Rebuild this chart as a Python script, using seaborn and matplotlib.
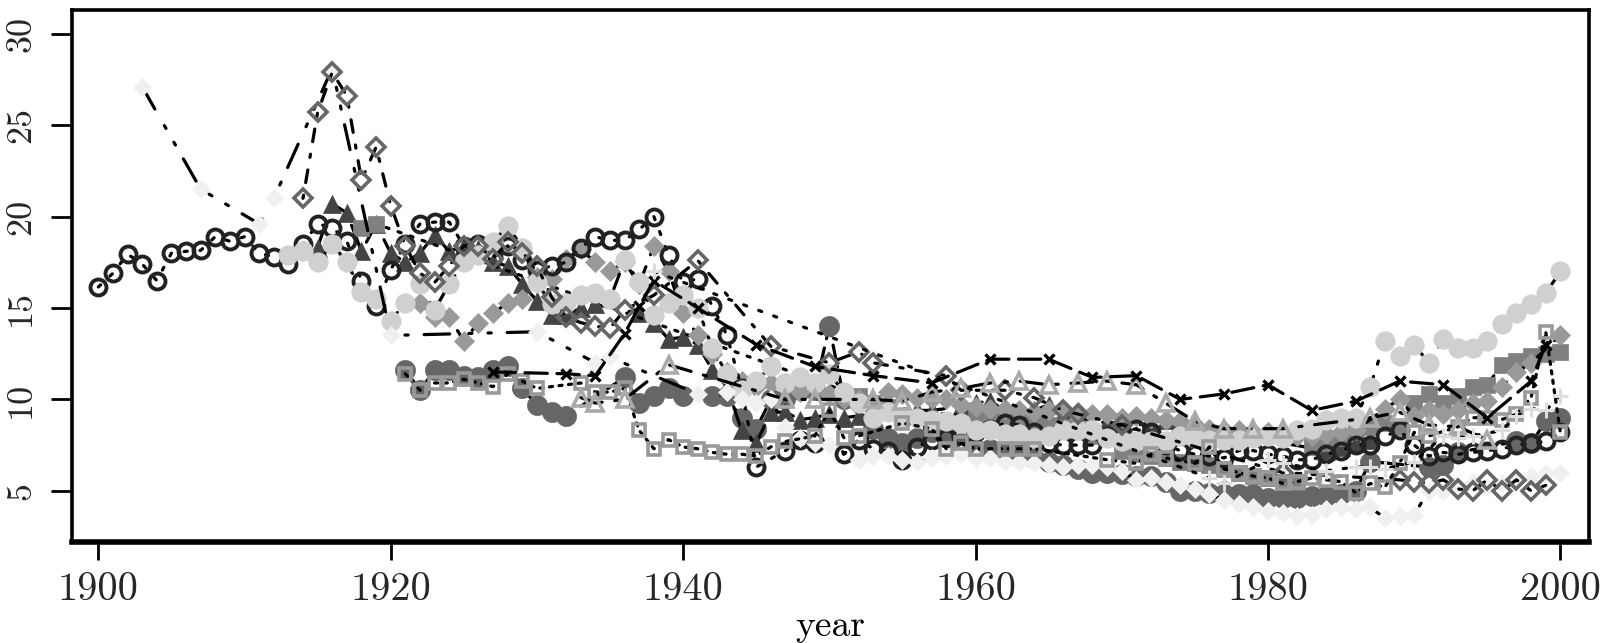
import matplotlib
matplotlib.use("Agg")
import matplotlib.pyplot as plt
import pandas as pd
import seaborn as sns

sns.set_style("white")
plt.rcParams["font.family"] = ["cmr10", "DejaVu Sans"]
plt.rcParams["axes.formatter.use_mathtext"] = True

x_ticks = [1900, 1920, 1940, 1960, 1980, 2000]
x_tick_labels = ["1900", "1920", "1940", "1960", "1980", "2000"]
y_ticks = [5, 10, 15, 20, 25, 30]
y_tick_labels = ["5", "10", "15", "20", "25", "30"]

# dark filled circles
h_years = [1921,1922,1923,1924,1925,1926,1927,1928,1929,1930,1931,1932,1936,1937,1938,1939,1940,1942,1943,1944,1945,1946,1947,1948,1949,1950,1951,1953,1954,1955,1956,1957,1958,1959,1960,1961,1962,1963,1964,1965,1966,1967,1968,1969,1970,1971,1972,1973,1974,1975,1976,1977,1978,1979,1980,1981,1982,1983,1984,1985,1986,1987,1991,1992,1993,1997,1998,1999,2000]
h_vals = [11.6,10.5,11.6,11.6,11.3,11.2,11.6,11.8,10.6,9.7,9.3,9.1,11.2,9.8,10.2,10.6,10.2,10.2,10.2,9.0,8.4,10,10,10.5,10.5,14,10,8.4,7.9,7.6,7.9,8.2,8,7.6,7.3,7.3,7.2,7,6.8,6.6,6.4,6.2,6,6,5.9,5.8,5.8,5.5,5,5,4.9,4.8,4.8,4.8,4.6,4.6,4.6,4.7,4.7,4.8,5,6.6,6.3,6.4,7.1,7.7,7.6,8.8,9]
# dark triangles
d_years = [1915,1916,1917,1918,1919,1920,1921,1922,1923,1924,1925,1926,1927,1928,1929,1930,1931,1932,1933,1934,1937,1938,1939,1940,1941,1942,1943,1944,1945,1946,1947,1948,1949,1950,1951,1952,1956,1957,1959,1960,1961,1962,1963,1964,1965,1966,1967,1969,1970,1972,1973,1974,1975,1976,1984,1985,1986,1987]
d_vals = [18.3,20.7,20.2,18.1,19.6,18,17.5,18,19,18.1,18.4,18.2,17.5,17.3,16.3,15.4,14.6,14.6,15,15.2,14.7,14.2,13.3,13.4,13,11.6,10.7,8.3,7.6,9.3,9.3,8.9,9,9.2,9,9.1,9.4,9.4,9.6,9.8,9.9,9.4,9.4,9.4,9.7,9.2,9,8.7,8.5,8.7,8.9,8.7,8.4,8.3,7.2,7.4,7.6,7.8]
# gray squares
e_years = [1918,1919,1952,1953,1954,1960,1961,1962,1963,1964,1965,1966,1967,1968,1970,1971,1972,1973,1974,1975,1976,1977,1978,1979,1980,1981,1982,1983,1984,1985,1986,1987,1988,1989,1990,1991,1992,1993,1994,1995,1996,1997,1998,1999,2000]
e_vals = [19.4,19.6,10.2,9.8,9.6,9,8.8,8.8,8.7,8.7,8.6,8.5,8.4,8,7.2,7,6.9,6.8,6.6,6.5,6.4,6.2,6,5.8,5.7,5.5,5.5,7.4,7.6,7.9,8.3,8.5,8.7,8.5,9.8,10.3,9.8,10.2,10.7,10.8,11.9,12.1,12.4,12.5,12.6]
# mid-gray diamonds
f_years = list(range(1922, 1936)) + list(range(1936, 1987)) + list(range(1988, 1999)) + [2000]
f_vals = [15.3,14.5,14.5,13.2,14.2,14.7,15.3,15.5,16.7,16.6,17.7,18.2,17.5,17,
          17.5,16.3,18.4,17,14.7,13.5,12.5,11.5,11,10.7,10.9,10.7,10.4,10.7,10.3,10,10,9.8,10.4,10.3,10.1,10,10,9.7,9.6,9.5,9.5,9.4,9.3,9.4,9.4,9.3,9.2,9.2,9,9.1,9,8.9,8.8,8.6,8.4,8.3,8.3,8.2,8.2,8.2,8,8,8.1,8.2,8.3,
          9.5,10,9.1,9.4,9.2,9.4,9.8,9.9,10.7,11.5,12,13.5]
# open dark circles
a_years = list(range(1900, 1945)) + [1945,1947,1948,1949] + list(range(1951, 2001))
a_vals = [16.15,16.9,17.95,17.4,16.5,18,18.1,18.15,18.9,18.65,18.9,18,17.8,17.4,18.5,19.6,19.4,18.65,16.5,15.1,17.1,18.5,19.6,19.7,19.7,
          18.4,18.5,17.8,18.4,17.6,17.1,17.3,17.5,18.3,18.9,18.7,18.7,19.3,20,17.9,16.4,16.6,15.1,13.5,10.6,
          6.3,7.2,7.8,7.6,
          7,7.8,7.3,7.2,6.7,7.4,7.8,7.9,8,8.2,8.4,8.7,8.6,8.2,7.6,7.5,7.5,7.5,8,8.2,8.4,8.2,7.5,7.2,7,6.9,6.8,7.2,7.2,7,6.9,6.7,6.7,7,7.2,7.5,7.5,8,8.3,7.5,6.9,7.1,7,7.1,7.2,7.3,7.5,7.6,7.7,8.2]
# light ellipses
g_years = list(range(1913, 2001))
g_vals = [17.9,18.1,17.5,18.5,17.5,15.9,15.5,14.3,15.3,16.3,14.9,16.3,17.5,17.9,18.6,19.5,18.3,16.4,15.2,15.3,15.7,15.8,15.5,17.6,16.4,14.6,15.3,15.7,15,12.8,11.4,10.5,11,11.8,10.9,11.2,10.9,11.4,10.4,9.8,9,9.3,9,9,8.9,8.8,8.7,8.3,8.3,8.1,8.1,7.9,8,8.3,8.3,8.3,7.9,7.7,7.7,7.7,7.7,8,7.9,7.8,7.8,7.8,7.9,8,7.9,8.3,8.4,8.9,9,9,10.7,13.2,12.4,13,12,13.3,12.8,12.8,13.2,14.1,14.7,15.2,15.8,17]
# pale diamonds
b_years = [1903,1907,1911,1912,1916,1920,1930,1934,1935,1941,1943,1944,1945,1946,1947,1948,1949,1950] + list(range(1952, 2001))
b_vals = [27.1,21.5,19.6,21,28.1,13.5,13.7,12,12.3,10.3,10.4,10,9.8,10,8.5,7.9,7.6,7.5,6.7,6.9,6.9,6.7,6.6,6.8,6.9,7,6.8,6.8,6.6,6.6,6.5,6.4,6.3,6.4,6.4,6.3,6.1,5.6,5.7,5.5,5.3,5.1,4.8,4.5,4.3,4.1,3.9,3.8,3.6,3.7,4,4.1,4,4.1,3.5,3.6,3.7,5,5,5.2,5.4,5.2,5.4,5.7,5.8,6,6]
# open gray diamonds
c_years = [1914,1915,1916,1917,1918,1919,1920,1921,1922,1923,1924,1925,1926,1927,1928,1929,1930,1931,1932,1933,1934,1935,1936,1938,1941,1946,1950,1952,1953,1958,1959,1962,1964,1966,1967,1970,1981,1989,1990,1991,1992,1993,1994,1995,1996,1997,1998,1999]
c_vals = [21,25.7,27.9,26.6,22,23.8,20.6,18.4,16.9,16.4,17.3,18.4,18.4,17.7,18.6,18,17.3,15.6,14.5,14.2,14,13.9,14.9,15.7,17.6,12.9,12,12.6,12,11.3,10.5,10.5,10.1,9.4,9.2,8.6,6,5.6,5.5,5.4,5.6,5.1,5,5.6,5,5.6,5,5.3]
# open gray squares
i_years = [1921,1922,1923,1924,1925,1926,1927,1928,1929,1930,1933,1934,1935,1936,1937,1938,1939,1940,1941,1942,1943,1944,1945,1946,1947,1949,1950,1951,1952,1955,1957,1958,1959,1960,1962,1963,1964,1969,1971,1972,1973,1975,1976,1977,1978,1979,1980,1981,1982,1983,1984,1985,1986,1987,1988,1989,1990,1991,1993,1994,1995,1996,1997,1998,1999,2000]
i_vals = [11.4,10.5,10.9,10.9,11.1,10.9,10.7,11.4,11,10.6,10.9,10.4,10.4,10.6,8.3,7.3,7.8,7.4,7.3,7.1,7,7,6.9,7.4,7.7,8,9.4,7.9,8,8.7,8.4,7.3,7.6,7.3,7.3,7.3,7.3,6.7,6.5,7,6.8,6.5,7.4,6.2,6,5.8,5.7,5.4,5.5,5.7,5.6,5.5,4.9,5.4,5.2,6.5,8.2,8,8.5,9,9,8.9,9.2,10.1,13.7,8.2]
# open triangles
k_years = [1933,1934,1936,1939,1947,1949,1953,1955,1957,1959,1961,1963,1965,1967,1969,1971,1973,1975,1977,1979,1981,1987,1989,1991,1993,1995]
k_vals = [10.1,9.8,10,11.9,10,10,10,9.9,10.4,10.6,10.9,11,10.8,10.9,11,10.8,9.8,8.8,8.4,8.4,8.4,9,9.3,8.6,8.5,7.8]
# crosses
j_years = [1927,1932,1934,1936,1937,1938,1941,1945,1949,1953,1957,1961,1965,1968,1971,1974,1977,1980,1983,1986,1989,1992,1995,1998,1999]
j_vals = [11.5,11.4,11.3,13.6,15.1,16.5,15,13,11.8,11.3,10.9,12.2,12.2,11.2,11.3,10,10.3,10.8,9.4,9.9,11,10.8,9,11,13]
# pale plus signs
l_years = [1938,1976,1977,1980,1981,1984,1986,1987,1988,1990,1992,1993,1994,1996,1997,1998,1999,2000]
l_vals = [17,5.7,5.4,6.7,6.5,6.1,6.3,6.3,6.2,6.6,8,7.9,8,8.3,9.1,9.5,9.4,10.2]

series = [
    ("h", h_years, h_vals, "o", 14.5, "#666666", "#666666", 0.5, (0, (7, 3))),
    ("d", d_years, d_vals, "^", 13.5, "#444444", "#444444", 0.5, (0, (8, 4))),
    ("e", e_years, e_vals, "s", 11, "#808080", "#808080", 0.5, (0, (1, 3))),
    ("f", f_years, f_vals, "D", 10.5, "#999999", "#999999", 0.5, (0, (4, 4))),
    ("a", a_years, a_vals, "o", 11.5, "none", "#222222", 2.8, (0, (1, 4))),
    ("g", g_years, g_vals, "o", 14, "#d0d0d0", "#d0d0d0", 0.5, (0, (1, 4, 5, 4))),
    ("b", b_years, b_vals, "D", 9.5, "#f0f0f0", "#f0f0f0", 0.5, (0, (8, 6, 1, 5, 1, 5))),
    ("c", c_years, c_vals, "D", 9.5, "none", "#666666", 2.6, (0, (1, 4, 4, 4))),
    ("i", i_years, i_vals, "s", 9, "none", "#999999", 2.6, (0, (1, 2))),
    ("k", k_years, k_vals, "^", 11.5, "none", "#aaaaaa", 2.6, (0, (7, 4, 1, 4))),
    ("j", j_years, j_vals, "x", 7.5, "black", "black", 2.4, (0, (7, 3))),
    ("l", l_years, l_vals, "+", 12, "#dddddd", "#dddddd", 2.2, (0, (1, 4))),
]

W, H = 1610, 643
fig = plt.figure(figsize=(W / 100, H / 100), dpi=100, facecolor="white")
ax = fig.add_axes([72 / W, 1 - 542 / H, (1589 - 72) / W, (542 - 10) / H])

for name, years, vals, marker, ms, face, edge, mew, ls in series:
    frame = pd.DataFrame({"year": years, "value": vals})
    sns.lineplot(data=frame, x="year", y="value", ax=ax, estimator=None, sort=False,
                 color="black", linewidth=2.3, linestyle=ls, marker=marker, markersize=ms,
                 markerfacecolor=face, markeredgecolor=edge, markeredgewidth=mew,
                 dash_capstyle="round", legend=False)

ax.set_xlim(1898.2, 2001.96)
ax.set_ylim(2.2, 31.3)
ax.set_xticks(x_ticks, x_tick_labels, fontsize=29)
ax.set_yticks(y_ticks, y_tick_labels, fontsize=26, rotation=90, va="center")
ax.tick_params(axis="x", length=13, width=2, pad=9, color="black", bottom=True)
ax.tick_params(axis="y", length=15, width=2, pad=10, color="black", left=True)
ax.set_xlabel("year", fontsize=27, labelpad=1, color="black")
ax.set_ylabel("")
for side, sp in ax.spines.items():
    sp.set_visible(True)
    sp.set_color("black")
    sp.set_linewidth(2.6)
ax.spines["bottom"].set_linewidth(4)
ax.grid(False)

fig.savefig("out.png", dpi=100, facecolor="white")
